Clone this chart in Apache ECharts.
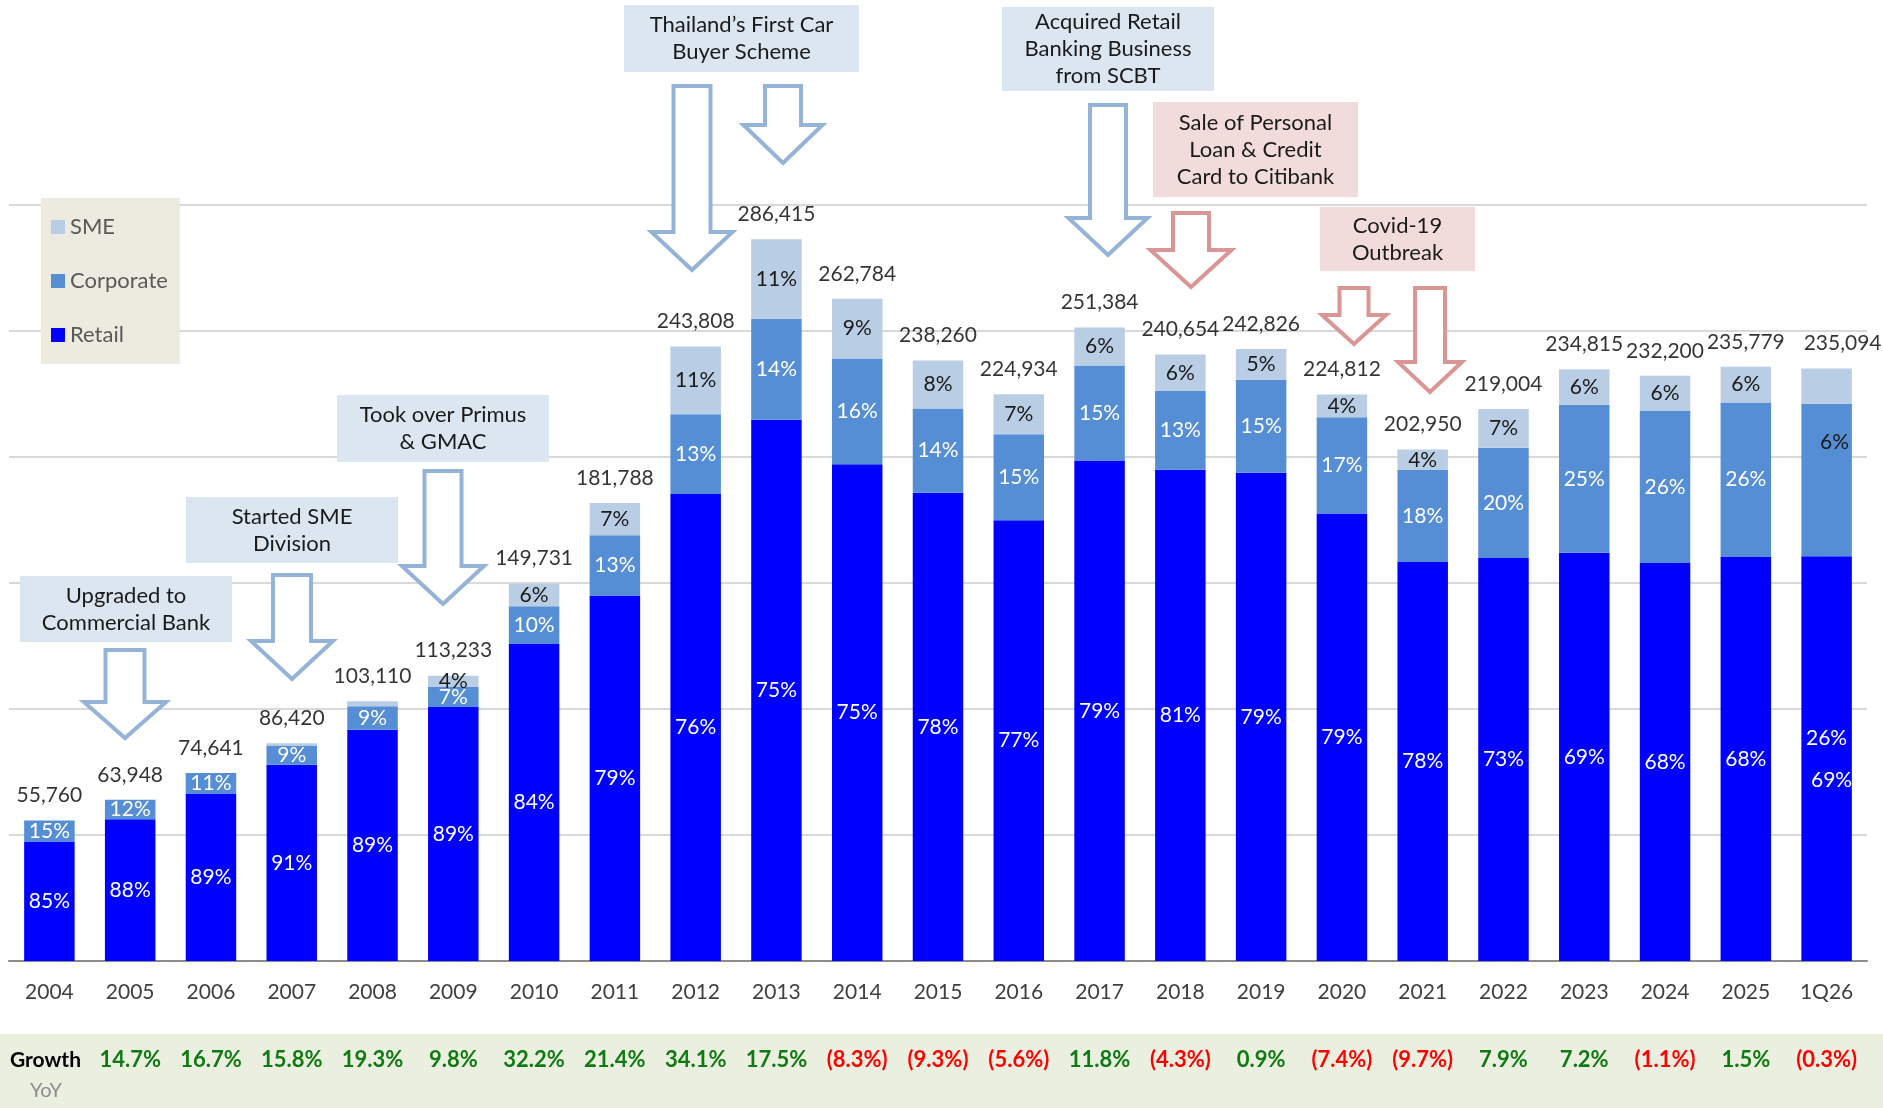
<!DOCTYPE html>
<html>
<head>
<meta charset="utf-8">
<script src="https://cdn.jsdelivr.net/npm/echarts@6/dist/echarts.min.js"></script>
<style>
  html, body { margin: 0; padding: 0; background: #fff; }
  #chart { width: 1883px; height: 1108px; }
</style>
</head>
<body>
<div id="chart"></div>
<script>
// categories
var years = ['2004', '2005', '2006', '2007', '2008', '2009', '2010', '2011', '2012', '2013', '2014',
    '2015', '2016', '2017', '2018', '2019', '2020', '2021', '2022', '2023', '2024', '2025', '1Q26'];

// total loans
var totals = [55760, 63948, 74641, 86420, 103110, 113233, 149731, 181788, 243808, 286415, 262784,
    238260, 224934, 251384, 240654, 242826, 224812, 202950, 219004, 234815, 232200, 235779, 235094];

// shares (%)
var retailPct = [85, 88, 89, 91, 89, 89, 84, 79, 76, 75, 75, 78, 77, 79, 81, 79, 79, 78, 73, 69, 68, 68, 69];
var corpPct   = [15, 12, 11, 9, 9, 7, 10, 13, 13, 14, 16, 14, 15, 15, 13, 15, 17, 18, 20, 25, 26, 26, 26];
var smePct    = [0, 0, 0, 1, 2, 4, 6, 7, 11, 11, 9, 8, 7, 6, 6, 5, 4, 4, 7, 6, 6, 6, 6];

// growth yoy (%)
var growth = [null, 14.7, 16.7, 15.8, 19.3, 9.8, 32.2, 21.4, 34.1, 17.5, -8.3, -9.3, -5.6, 11.8, -4.3,
    0.9, -7.4, -9.7, 7.9, 7.2, -1.1, 1.5, -0.3];

var FONT = 'Lato, "Noto Sans", sans-serif';
var last = years.length - 1;

function segValues(pcts) {
    return totals.map(function(t, i) {
        var sum = retailPct[i] + corpPct[i] + smePct[i];
        return Math.round(t * pcts[i] / sum);
    });
}

// 1Q26 labels sit lower in the original
function withOffset(values, off) {
    return values.map(function(v, i) {
        if (i === last) return { value: v, label: { offset: off } };
        return v;
    });
}

var retailData = withOffset(segValues(retailPct), [5, 22]);
var corpData = withOffset(segValues(corpPct), [0, 258]);
var smeData = withOffset(segValues(smePct), [8, 56]);

var totalData = totals.map(function(t, i) {
    if (i === last) return { value: t, label: { offset: [16, 0] } };
    return t;
});

// annotation boxes [x1, y1, x2, y2, text, kind]
var notes = [
    [20, 576, 232, 642, 'Upgraded to\nCommercial Bank', 'b'],
    [186, 497, 398, 563, 'Started SME\nDivision', 'b'],
    [337, 395, 549, 462, 'Took over Primus\n& GMAC', 'b'],
    [624, 5, 859, 72, 'Thailand\u2019s First Car\nBuyer Scheme', 'b'],
    [1002, 7, 1214, 91, 'Acquired Retail\nBanking Business\nfrom SCBT', 'b'],
    [1153, 102, 1358, 197, 'Sale of Personal\nLoan & Credit\nCard to Citibank', 'r'],
    [1320, 207, 1475, 271, 'Covid-19\nOutbreak', 'r']
];

// arrows [cx, top, shoulder, tip, shaftW, headW, kind]
var arrows = [
    [125, 648, 702, 741, 43, 86, 'b'],
    [292, 573, 641, 682, 42, 86, 'b'],
    [443, 469, 566, 607, 41, 86, 'b'],
    [692, 84, 232, 273, 41, 85, 'b'],
    [783, 84, 125, 166, 40, 83, 'b'],
    [1108, 103, 218, 258, 40, 83, 'b'],
    [1191, 211, 250, 290, 40, 85, 'r'],
    [1354, 286, 315, 347, 33, 68, 'r'],
    [1430, 286, 362, 395, 34, 68, 'r']
];

var boxFill = { b: '#DCE6F1', r: '#F2DCDB' };
var arrowStroke = { b: '#95B3D7', r: '#D99694' };

var graphics = [];
graphics.push({
    type: 'rect', z: -10, silent: true,
    shape: { x: 0, y: 1034, width: 1883, height: 74 },
    style: { fill: '#EBEFE0' }
});
graphics.push({
    type: 'text', z: 10,
    style: { text: 'Growth', x: 10, y: 1060, verticalAlign: 'middle', font: 'bold 21px ' + FONT, fill: '#000' }
});
graphics.push({
    type: 'text', z: 10,
    style: { text: 'YoY', x: 30, y: 1091, verticalAlign: 'middle', font: '20px ' + FONT, fill: '#8C8C8C' }
});

notes.forEach(function(n) {
    graphics.push({
        type: 'rect', z: 20,
        shape: { x: n[0], y: n[1], width: n[2] - n[0], height: n[3] - n[1] },
        style: { fill: boxFill[n[5]] }
    });
    graphics.push({
        type: 'text', z: 21,
        style: {
            text: n[4], x: (n[0] + n[2]) / 2, y: (n[1] + n[3]) / 2,
            align: 'center', verticalAlign: 'middle', lineHeight: 27,
            font: '22px ' + FONT, fill: '#1A1A1A'
        }
    });
});

arrows.forEach(function(a) {
    var cx = a[0], s = a[4] / 2 - 2, h = a[5] / 2 - 2;
    var top = a[1] + 2, sh = a[2], tip = a[3] - 3;
    graphics.push({
        type: 'polygon', z: 20,
        shape: {
            points: [[cx - s, top], [cx + s, top], [cx + s, sh], [cx + h, sh], [cx, tip], [cx - h, sh], [cx - s, sh]]
        },
        style: { fill: '#fff', stroke: arrowStroke[a[6]], lineWidth: 4, lineJoin: 'miter' }
    });
});

var myChart = echarts.init(document.getElementById('chart'));

function pctLabel(arr, color, minShow) {
    return {
        show: true,
        position: 'inside',
        color: color,
        fontSize: 21,
        fontFamily: FONT,
        formatter: function(p) {
            var v = arr[p.dataIndex];
            return v >= minShow ? v + '%' : '';
        }
    };
}

myChart.setOption({
    animation: false,
    textStyle: { fontFamily: FONT },
    grid: {
        left: 9,
        right: 16,
        top: 205,
        bottom: 147,
        containLabel: false
    },
    legend: {
        orient: 'vertical',
        left: 41,
        top: 198,
        data: ['SME', 'Corporate', 'Retail'],
        icon: 'rect',
        itemWidth: 14,
        itemHeight: 14,
        itemGap: 32,
        padding: [18, 12, 18, 10],
        backgroundColor: '#EDEBE0',
        textStyle: { fontSize: 22, color: '#595959', fontFamily: FONT }
    },
    xAxis: [{
        type: 'category',
        data: years,
        axisLine: { lineStyle: { color: '#8C8C8C', width: 2 } },
        axisTick: { show: false },
        axisLabel: { margin: 21, fontSize: 21, color: '#404040', fontFamily: FONT, interval: 0 }
    }, {
        type: 'category',
        data: years,
        position: 'bottom',
        z: 10,
        axisLine: { show: false },
        axisTick: { show: false },
        axisLabel: {
            interval: 0,
            margin: 88,
            formatter: function(v, i) {
                var g = growth[i];
                if (g === null) return '';
                if (g < 0) return '{r|(' + Math.abs(g).toFixed(1) + '%)}';
                return '{g|' + g.toFixed(1) + '%}';
            },
            rich: {
                g: { color: '#0F7A12', fontWeight: 'bold', fontSize: 22, fontFamily: FONT },
                r: { color: '#FF0000', fontWeight: 'bold', fontSize: 22, fontFamily: FONT }
            }
        }
    }],
    yAxis: {
        type: 'value',
        min: 0,
        max: 300000,
        interval: 50000,
        axisLine: { show: false },
        axisTick: { show: false },
        axisLabel: { show: false },
        splitLine: { lineStyle: { color: '#D9D9D9', width: 2 } }
    },
    series: [{
        name: 'Retail',
        type: 'bar',
        stack: 'loan',
        barCategoryGap: '37.5%',
        itemStyle: { color: '#0000FF' },
        label: pctLabel(retailPct, '#fff', 1),
        data: retailData
    }, {
        name: 'Corporate',
        type: 'bar',
        stack: 'loan',
        itemStyle: { color: '#558ED5' },
        label: pctLabel(corpPct, '#fff', 1),
        data: corpData
    }, {
        name: 'SME',
        type: 'bar',
        stack: 'loan',
        itemStyle: { color: '#B9CDE5' },
        label: pctLabel(smePct, '#1A1A1A', 3),
        data: smeData
    }, {
        name: 'Total',
        type: 'scatter',
        symbolSize: 1,
        silent: true,
        itemStyle: { color: 'rgba(0,0,0,0)' },
        label: {
            show: true,
            position: 'top',
            distance: 14,
            color: '#000',
            fontSize: 21,
            fontFamily: FONT,
            formatter: function(p) {
                return p.value.toLocaleString('en-US');
            }
        },
        data: totalData
    }],
    graphic: graphics
});
</script>
</body>
</html>
